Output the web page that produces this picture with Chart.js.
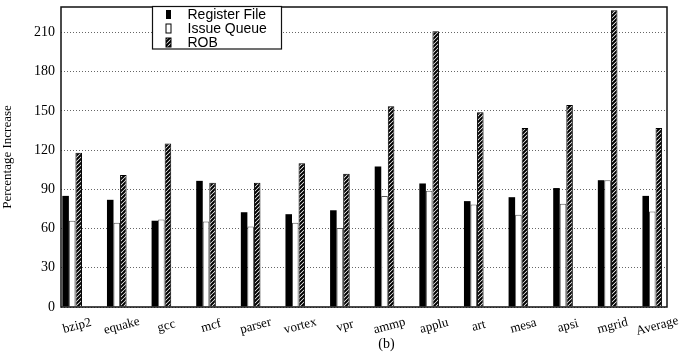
<!DOCTYPE html>
<html>
<head>
<meta charset="utf-8">
<script src="https://cdn.jsdelivr.net/npm/chart.js@4/dist/chart.umd.min.js"></script>
<style>
  html, body { margin: 0; padding: 0; background: #fff; }
  #wrap { width: 697px; height: 354px; position: relative; }
</style>
</head>
<body>
<div id="wrap"><canvas id="c" width="697" height="354"></canvas></div>
<script>
// Benchmarks along the x axis
const categories = ['bzip2', 'equake', 'gcc', 'mcf', 'parser', 'vortex', 'vpr',
                    'ammp', 'applu', 'art', 'mesa', 'apsi', 'mgrid', 'Average'];

// Percentage increase per structure
const registerFile = [85, 82, 66, 96.5, 72.5, 71, 74, 107.5, 94.5, 81, 84, 91, 97, 85];
const issueQueue   = [66, 64.5, 67, 65.5, 61.5, 64.5, 60.5, 85, 89, 78.5, 70.5, 79, 97, 73];
const rob          = [118, 101, 125, 95, 95, 110, 102, 153.5, 211, 149, 137, 154.5, 227, 137];

const yTicks = [0, 30, 60, 90, 120, 150, 180, 210];
const caption = '(b)';

// diagonal hatch used for the ROB bars
function hatch() {
  const c = document.createElement('canvas');
  c.width = 4; c.height = 4;
  const g = c.getContext('2d');
  g.fillStyle = '#fff';
  g.fillRect(0, 0, 4, 4);
  g.strokeStyle = '#000';
  g.lineWidth = 2;
  g.beginPath();
  g.moveTo(-1, 5); g.lineTo(5, -1);
  g.moveTo(-1, 1); g.lineTo(1, -1);
  g.moveTo(3, 5); g.lineTo(5, 3);
  g.stroke();
  return g.createPattern(c, 'repeat');
}
const robFill = hatch();

const toPoints = arr => arr.map((v, i) => ({ x: i, y: v }));

// frame, slanted category labels, caption and boxed legend
const decor = {
  id: 'decor',
  afterDraw(chart) {
    const ctx = chart.ctx;
    const a = chart.chartArea;
    const xs = chart.scales.x;
    ctx.save();
    // frame
    ctx.strokeStyle = '#111';
    ctx.lineWidth = 1.5;
    ctx.strokeRect(a.left, a.top, a.right - a.left, a.bottom - a.top);

    // category labels
    ctx.fillStyle = '#000';
    ctx.font = '13px "Liberation Serif", "DejaVu Serif", serif';
    ctx.textAlign = 'center';
    ctx.textBaseline = 'middle';
    categories.forEach((name, i) => {
      const px = xs.getPixelForValue(i) + 5;
      ctx.save();
      ctx.translate(px, a.bottom + 19);
      ctx.rotate(-15 * Math.PI / 180);
      ctx.fillText(name, 0, 0);
      ctx.restore();
    });

    // caption
    ctx.font = '14px "Liberation Serif", "DejaVu Serif", serif';
    ctx.fillText(caption, xs.getPixelForValue(7) + 2, a.bottom + 37);

    // legend
    const bx = 152.5, by = a.top - 0.5, bw = 129, bh = 42.5;
    ctx.fillStyle = '#fff';
    ctx.fillRect(bx, by, bw, bh);
    ctx.strokeStyle = '#111';
    ctx.lineWidth = 1.2;
    ctx.strokeRect(bx, by, bw, bh);
    ctx.font = '14px "Liberation Sans", Arial, sans-serif';
    ctx.textAlign = 'left';
    chart.data.datasets.forEach((ds, k) => {
      const cy = by + 8 + k * 14;
      const mx = bx + 13.5, mw = 5, mh = 9;
      ctx.fillStyle = ds.backgroundColor;
      ctx.fillRect(mx, cy - mh / 2, mw, mh);
      if (ds.borderWidth) {
        ctx.strokeStyle = k === 1 ? '#000' : ds.borderColor;
        ctx.lineWidth = 1;
        ctx.strokeRect(mx, cy - mh / 2, mw, mh);
      }
      ctx.fillStyle = '#000';
      ctx.fillText(ds.label, bx + 35, cy + 1);
    });
    ctx.restore();
  }
};

new Chart(document.getElementById('c'), {
  type: 'bar',
  data: {
    datasets: [
      { label: 'Register File', data: toPoints(registerFile),
        backgroundColor: '#000', borderColor: '#000', borderWidth: 0 },
      { label: 'Issue Queue', data: toPoints(issueQueue),
        backgroundColor: '#fff', borderColor: '#555', borderWidth: 1 },
      { label: 'ROB', data: toPoints(rob),
        backgroundColor: robFill, borderColor: '#000', borderWidth: 1 }
    ]
  },
  options: {
    responsive: false,
    animation: false,
    events: [],
    layout: { padding: { top: 7, right: 30, left: 0, bottom: 0 } },
    datasets: { bar: { categoryPercentage: 0.44, barPercentage: 1.0 } },
    plugins: { legend: { display: false }, tooltip: { enabled: false } },
    scales: {
      x: {
        type: 'linear',
        offset: false,
        min: -0.25,
        max: 13.33,
        grid: { display: false },
        border: { display: false },
        ticks: { display: false },
        afterFit(s) { s.height = 47; s.paddingLeft = 0; s.paddingRight = 0; }
      },
      y: {
        min: 0,
        max: 229.5,
        afterBuildTicks(s) { s.ticks = yTicks.map(v => ({ value: v })); },
        afterFit(s) { s.width = 61; s.paddingTop = 0; s.paddingBottom = 0; },
        border: { display: false, dash: [1, 2] },
        grid: {
          color: '#666',
          lineWidth: 1,
          drawTicks: false
        },
        ticks: {
          padding: 6,
          color: '#000',
          font: { family: '"Liberation Serif", "DejaVu Serif", serif', size: 14 }
        },
        title: {
          display: true,
          text: 'Percentage Increase',
          color: '#000',
          padding: { top: 0, bottom: 0 },
          font: { family: '"Liberation Serif", "DejaVu Serif", serif', size: 13 }
        }
      }
    }
  },
  plugins: [decor]
});
</script>
</body>
</html>
